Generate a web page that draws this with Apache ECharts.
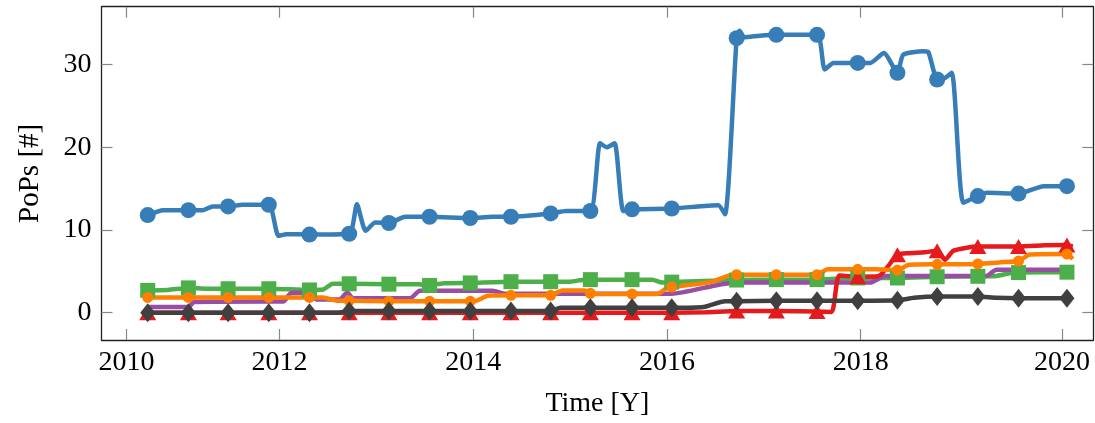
<!DOCTYPE html>
<html>
<head>
<meta charset="utf-8">
<script src="https://cdn.jsdelivr.net/npm/echarts@6/dist/echarts.min.js"></script>
<style>
html,body{margin:0;padding:0;background:#fff;}
#chart{width:1095px;height:423px;}
</style>
</head>
<body>
<div id="chart"></div>
<script>
// ---- data (x in plot-time units, y in PoPs) ----
const xTickPos = [2010.42, 2012, 2014, 2016, 2018, 2020.08];
const xTickLabels = ['2010', '2012', '2014', '2016', '2018', '2020'];
const yTicks = [0, 10, 20, 30];

// sample times where a marker is drawn (shared by all marked series)
const markTimes = [2010.64, 2011.06, 2011.47, 2011.89, 2012.31, 2012.72, 2013.13, 2013.55, 2013.97, 2014.39, 2014.80, 2015.21, 2015.64, 2016.05, 2016.72, 2017.13, 2017.55, 2017.97, 2018.38, 2018.79, 2019.21, 2019.63, 2020.13];

const blue = [
  [2010.64, 11.8], [2010.80, 12.4], [2011.06, 12.4], [2011.21, 12.4], [2011.31, 12.85], [2011.47, 12.85],
  [2011.62, 13.05], [2011.89, 13.05], [2011.99, 9.3], [2012.07, 9.5], [2012.31, 9.45], [2012.72, 9.55],
  [2012.80, 13.1], [2012.89, 9.9], [2012.99, 10.9], [2013.13, 10.85], [2013.30, 11.6], [2013.55, 11.6],
  [2013.97, 11.45], [2014.20, 11.6], [2014.39, 11.6], [2014.80, 12.0], [2014.96, 12.3], [2015.21, 12.3],
  [2015.31, 20.5], [2015.38, 20.0], [2015.46, 20.5], [2015.55, 12.3], [2015.64, 12.5], [2016.05, 12.6],
  [2016.53, 13.0], [2016.60, 11.9], [2016.72, 33.2], [2016.75, 34.1], [2016.80, 33.3], [2016.96, 33.5],
  [2017.13, 33.6], [2017.55, 33.6], [2017.63, 29.4], [2017.72, 30.2], [2017.97, 30.2], [2018.10, 30.2],
  [2018.24, 31.4], [2018.38, 29.0], [2018.44, 31.2], [2018.65, 31.6], [2018.70, 31.5], [2018.79, 28.2],
  [2018.84, 28.2], [2018.94, 29.0], [2019.06, 13.3], [2019.21, 14.1], [2019.30, 14.5], [2019.63, 14.4],
  [2019.89, 15.3], [2020.13, 15.3]
];

const green = [
  [2010.64, 2.7], [2010.85, 2.75], [2011.06, 3.0], [2011.25, 2.9], [2011.47, 2.9], [2011.89, 2.9],
  [2012.31, 2.75], [2012.45, 2.8], [2012.55, 3.5], [2012.72, 3.5], [2013.13, 3.45], [2013.45, 3.45],
  [2013.50, 3.25], [2013.55, 3.3], [2013.70, 3.55], [2013.97, 3.6], [2014.39, 3.75], [2014.80, 3.75],
  [2015.00, 3.75], [2015.15, 4.0], [2015.21, 4.0], [2015.64, 4.0], [2015.85, 4.0], [2015.95, 3.65],
  [2016.05, 3.7], [2016.72, 3.95], [2017.13, 4.0], [2017.55, 4.0], [2017.97, 4.2], [2018.38, 4.2],
  [2018.79, 4.35], [2019.21, 4.4], [2019.40, 4.45], [2019.55, 4.8], [2019.63, 4.85], [2020.13, 4.9]
];

const purple = [
  [2010.64, 0.7], [2011.06, 0.7], [2011.12, 1.3], [2011.89, 1.35], [2012.04, 1.35], [2012.12, 2.4],
  [2012.30, 2.45], [2012.38, 1.6], [2012.62, 1.6], [2012.70, 2.45], [2012.76, 1.75], [2013.35, 1.75],
  [2013.45, 2.65], [2014.20, 2.65], [2014.32, 2.3], [2016.05, 2.3], [2016.50, 3.3], [2016.72, 3.65],
  [2018.10, 3.65], [2018.25, 4.45], [2019.30, 4.45], [2019.40, 5.2], [2020.19, 5.2]
];

const red = [
  [2010.64, 0], [2011.06, 0], [2011.47, 0], [2011.89, 0], [2012.31, 0], [2012.72, 0], [2013.13, 0],
  [2013.55, 0], [2013.97, 0], [2014.39, 0], [2014.80, 0], [2015.21, 0], [2015.64, 0], [2016.05, 0],
  [2016.40, 0.05], [2016.72, 0.2], [2017.13, 0.2], [2017.55, 0.15], [2017.70, 0.1], [2017.78, 4.5],
  [2017.97, 4.35], [2018.18, 4.4], [2018.38, 7.0], [2018.50, 7.2], [2018.66, 7.3], [2018.79, 7.5],
  [2018.87, 6.4], [2018.96, 7.5], [2019.21, 8.0], [2019.63, 8.0], [2019.90, 8.15], [2020.13, 8.2],
  [2020.19, 8.0]
];

const orange = [
  [2010.64, 1.85], [2011.06, 1.85], [2011.47, 1.85], [2011.89, 1.85], [2012.31, 1.85], [2012.45, 1.85],
  [2012.60, 1.45], [2012.72, 1.45], [2013.13, 1.4], [2013.55, 1.4], [2013.97, 1.4], [2014.02, 1.4],
  [2014.15, 2.05], [2014.39, 2.1], [2014.80, 2.1], [2014.92, 2.7], [2015.15, 2.7], [2015.21, 2.35],
  [2015.30, 2.25], [2015.64, 2.25], [2015.90, 2.25], [2016.00, 3.0], [2016.05, 3.1], [2016.45, 3.7],
  [2016.65, 4.55], [2016.72, 4.6], [2017.13, 4.6], [2017.55, 4.6], [2017.66, 5.25], [2017.97, 5.25],
  [2018.15, 5.25], [2018.38, 5.15], [2018.50, 5.8], [2018.79, 5.85], [2019.21, 5.9], [2019.45, 6.1],
  [2019.63, 6.25], [2019.75, 7.05], [2020.13, 7.1], [2020.19, 6.5]
];

const black = [
  [2010.64, 0], [2011.06, 0], [2011.47, 0], [2011.89, 0], [2012.31, 0], [2012.60, 0], [2012.72, 0.2],
  [2013.13, 0.2], [2013.55, 0.2], [2013.97, 0.2], [2014.39, 0.2], [2014.80, 0.2], [2014.90, 0.6],
  [2015.21, 0.6], [2015.64, 0.6], [2016.05, 0.6], [2016.38, 0.7], [2016.60, 1.4], [2016.72, 1.4],
  [2017.13, 1.45], [2017.55, 1.45], [2017.97, 1.45], [2018.38, 1.5], [2018.55, 1.8], [2018.79, 1.95],
  [2019.21, 1.95], [2019.40, 1.8], [2019.63, 1.75], [2020.13, 1.75]
];

// ---- chart ----
const FONT = '"Liberation Serif", "DejaVu Serif", serif';
const isMark = t => markTimes.some(m => Math.abs(m - t) < 1e-6);

function mkSeries(name, pts, color, symbol, size) {
  return {
    name: name,
    type: 'line',
    smooth: 0.2,
    showAllSymbol: true,
    symbol: symbol,
    symbolSize: size,
    lineStyle: { color: color, width: 4.5 },
    itemStyle: { color: color, borderWidth: 0 },
    emphasis: { disabled: true },
    data: pts.map(p => (symbol !== 'none' && isMark(p[0]))
      ? { value: p }
      : { value: p, symbol: 'none' })
  };
}

const chart = echarts.init(document.getElementById('chart'), null, { renderer: 'canvas' });
const tickFmt = v => {
  const i = xTickPos.findIndex(p => Math.abs(p - v) < 1e-6);
  return i >= 0 ? xTickLabels[i] : '';
};
const axisLineStyle = { color: '#222', width: 1.3 };
const tickStyle = { color: '#888', width: 1.2 };

chart.setOption({
  animation: false,
  backgroundColor: '#fff',
  grid: { left: 101.5, right: 1.7, top: 6.7, bottom: 82 },
  xAxis: [{
    type: 'value', min: 2010.163, max: 2020.402, position: 'bottom',
    name: 'Time [Y]', nameLocation: 'middle', nameGap: 50,
    nameTextStyle: { fontFamily: FONT, fontSize: 28, color: '#000' },
    axisLine: { show: true, onZero: false, lineStyle: axisLineStyle },
    axisTick: { show: true, inside: true, length: 11, customValues: xTickPos, lineStyle: tickStyle },
    axisLabel: { show: true, customValues: xTickPos, formatter: tickFmt, margin: 9,
      fontFamily: FONT, fontSize: 28, color: '#000' },
    splitLine: { show: false }
  }, {
    type: 'value', min: 2010.163, max: 2020.402, position: 'top',
    axisLine: { show: true, onZero: false, lineStyle: axisLineStyle },
    axisTick: { show: true, inside: true, length: 11, customValues: xTickPos, lineStyle: tickStyle },
    axisLabel: { show: false },
    splitLine: { show: false }
  }],
  yAxis: [{
    type: 'value', min: -3.3, max: 37, position: 'left',
    name: 'PoPs [#]', nameLocation: 'middle', nameGap: 57,
    nameTextStyle: { fontFamily: FONT, fontSize: 29, color: '#000' },
    axisLine: { show: true, onZero: false, lineStyle: axisLineStyle },
    axisTick: { show: true, inside: true, length: 11, customValues: yTicks, lineStyle: tickStyle },
    axisLabel: { show: true, customValues: yTicks, margin: 10,
      fontFamily: FONT, fontSize: 28, color: '#000' },
    splitLine: { show: false }
  }, {
    type: 'value', min: -3.3, max: 37, position: 'right',
    axisLine: { show: true, onZero: false, lineStyle: axisLineStyle },
    axisTick: { show: true, inside: true, length: 11, customValues: yTicks, lineStyle: tickStyle },
    axisLabel: { show: false },
    splitLine: { show: false }
  }],
  series: [
    mkSeries('blue', blue, '#377eb8', 'circle', 16),
    mkSeries('green', green, '#4daf4a', 'rect', 15),
    mkSeries('purple', purple, '#984ea3', 'none', 0),
    mkSeries('red', red, '#e41a1c', 'triangle', [17, 15]),
    mkSeries('orange', orange, '#ff7f00', 'circle', 11),
    mkSeries('black', black, '#404040', 'diamond', [15, 19])
  ]
});
</script>
</body>
</html>
